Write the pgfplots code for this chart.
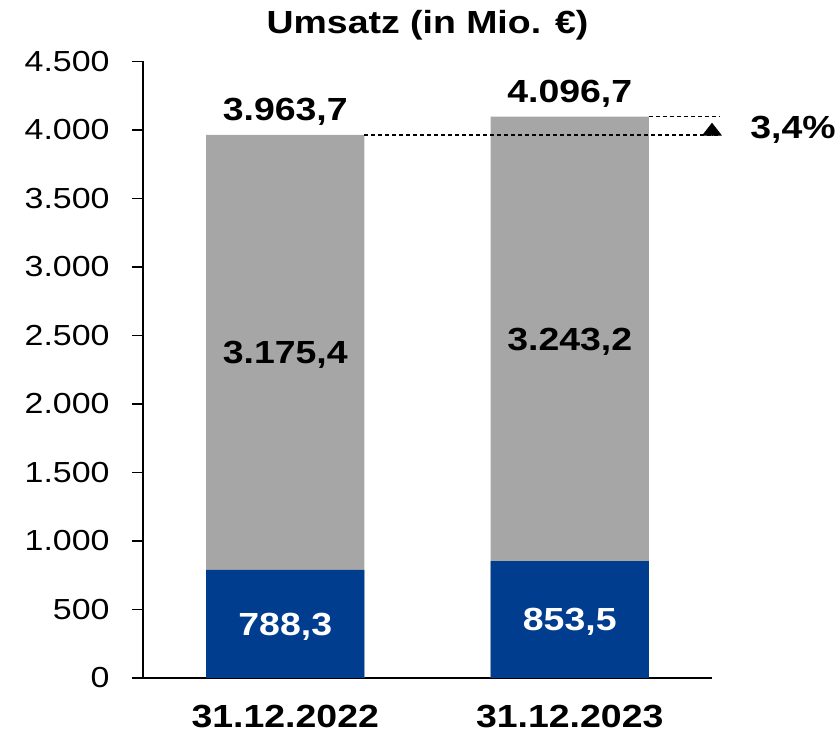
\documentclass[border=0pt]{standalone}
\usepackage{fontspec}
\setmainfont[FakeStretch=1.17]{Liberation Sans}
\usepackage{pgfplots}
\pgfplotsset{compat=1.18}
\usetikzlibrary{arrows.meta}

\definecolor{barblue}{HTML}{003D8F}
\definecolor{bargrey}{HTML}{A6A6A6}
\newcommand{\lbl}{\fontsize{16}{19}\selectfont\bfseries}
\newcommand{\tck}{\fontsize{14.5}{17}\selectfont}

\begin{document}
\begin{tikzpicture}
% Rahmen in Bildgroesse (1px = 0.5pt)
\useasboundingbox (-71.5pt,-26.5pt) rectangle (348.5pt,339pt);
\begin{axis}[
    at={(0pt,0pt)},
    anchor=south west,
    scale only axis,
    width=284.5pt,
    height=308.25pt,
    xmin=-0.5, xmax=1.5,
    ymin=0, ymax=4500,
    clip=false,
    axis x line*=bottom,
    axis y line*=left,
    x axis line style={line width=1pt},
    y axis line style={line width=0.6pt},
    xtick={0,1},
    xticklabels={31.12.2022, 31.12.2023},
    major x tick style={draw=none},
    ytick={0,500,...,4500},
    major y tick style={line width=0.6pt, black},
    tick align=outside,
    major tick length=5.5pt,
    xticklabel style={font=\lbl, anchor=base, inner sep=0pt, yshift=-19.5pt},
    yticklabel style={font=\tck, anchor=east, inner sep=0pt, xshift=-11pt},
    /pgf/number format/assume math mode=true,
    /pgf/number format/.cd, use comma, 1000 sep={.},
    /pgfplots/.cd,
    title={Umsatz (in Mio. €)},
    title style={font=\lbl, at={(0.5,1)}, anchor=base, inner sep=0pt, yshift=7.75pt},
]

% Gesamtumsatz (grau) mit Summe darueber
\addplot[
    ybar, bar width=79pt, bar shift=0pt,
    fill=bargrey, draw=none,
    nodes near coords={\pgfmathprintnumber[fixed,fixed zerofill,precision=1,use comma,1000 sep={.},assume math mode=true]{\pgfplotspointmeta}},
    every node near coord/.style={font=\lbl, anchor=base, inner sep=0pt, yshift=7pt}
]
coordinates {(0,3963.7) (1,4096.7)};

% Anteil blau
\addplot[
    ybar, bar width=79pt, bar shift=0pt,
    fill=barblue, draw=none
]
coordinates {(0,788.3) (1,853.5)};

% Beschriftungen in den Segmenten
\addplot[
    draw=none, mark=none,
    nodes near coords,
    point meta=explicit symbolic,
    every node near coord/.style={font=\lbl, text=white, anchor=base, inner sep=0pt, yshift=-5.7pt}
]
coordinates {(0,394.15)[788,3] (1,426.75)[853,5]};

\addplot[
    draw=none, mark=none,
    nodes near coords,
    point meta=explicit symbolic,
    every node near coord/.style={font=\lbl, text=black, anchor=base, inner sep=0pt, yshift=-5.7pt}
]
coordinates {(0,2376.05)[3.175,4] (1,2475.1)[3.243,2]};

% Hilfslinien und Pfeil
\addplot[black, line width=0.6pt, dash pattern=on 2pt off 1.5pt]
coordinates {(0.278,3963.7) (1.528,3963.7)};
\addplot[black, line width=0.6pt, dash pattern=on 2pt off 1.5pt]
coordinates {(1.278,4096.7) (1.528,4096.7)};
\addplot[black, line width=0.5pt, shorten >=3pt, -{Triangle[width=10pt,length=6.5pt]}]
coordinates {(1.5,3963.7) (1.5,4096.7)};

\node[font=\lbl, anchor=base west, inner sep=0pt, xshift=19pt] at (axis cs:1.5,3941) {3,4\%};

\end{axis}
\end{tikzpicture}
\end{document}
